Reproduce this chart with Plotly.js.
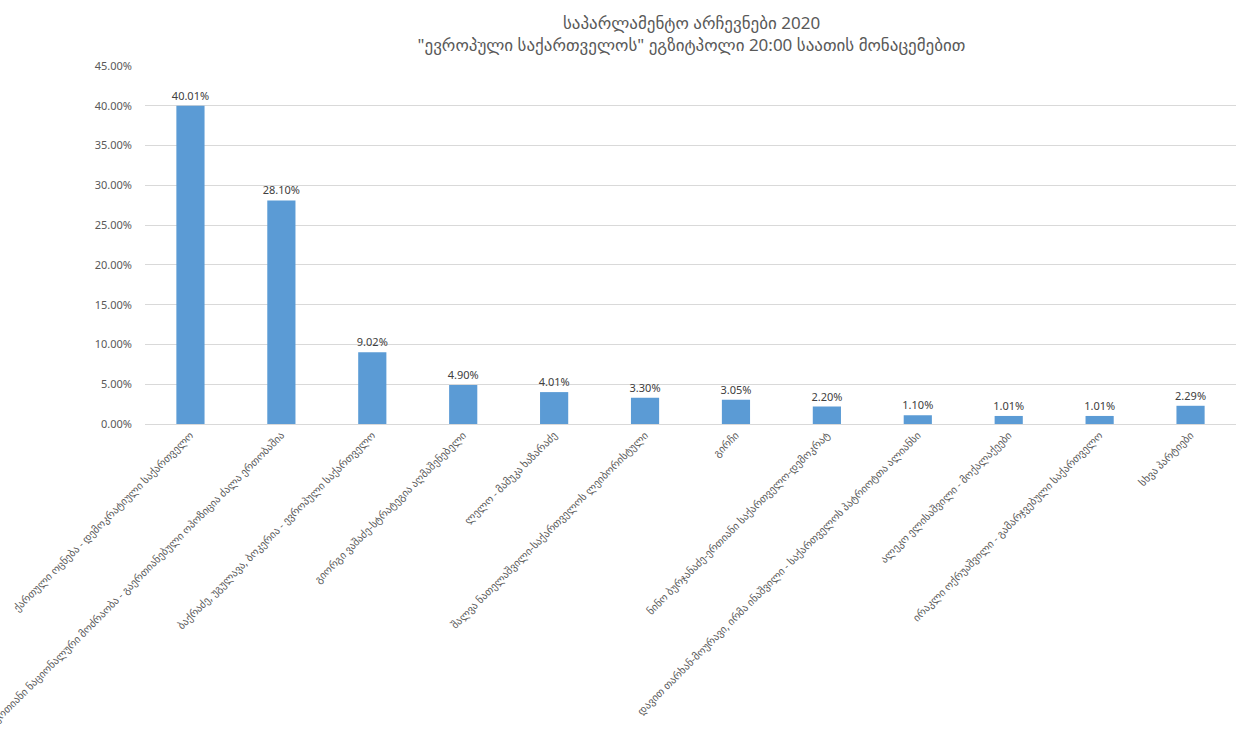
<!DOCTYPE html>
<html>
<head>
<meta charset="utf-8">
<script src="https://cdn.plot.ly/plotly-3.0.1.min.js"></script>
<style>html,body{margin:0;padding:0;background:#fff;}#chart{width:1246px;height:752px;}</style>
</head>
<body>
<div id="chart"></div>
<script>
const categories = [
  "ქართული ოცნება - დემოკრატიული საქართველო",
  "ერთიანი ნაციონალური მოძრაობა - გაერთიანებული ოპოზიცია ძალა ერთობაშია",
  "ბაქრაძე, უგულავა, ბოკერია - ევროპული საქართველო",
  "გიორგი ვაშაძე-სტრატეგია აღმაშენებელი",
  "ლელო - მამუკა ხაზარაძე",
  "შალვა ნათელაშვილი-საქართველოს ლეიბორისტული",
  "გირჩი",
  "ნინო ბურჯანაძე-ერთიანი საქართველო-დემოკრატ",
  "დავით თარხან-მოურავი, ირმა ინაშვილი - საქართველოს პატრიოტთა ალიანსი",
  "ალეკო ელისაშვილი - მოქალაქეები",
  "ირაკლი ოქრუაშვილი - გამარჯვებული საქართველო",
  "სხვა პარტიები"
];
const values = [0.4001, 0.2810, 0.0902, 0.0490, 0.0401, 0.0330, 0.0305, 0.0220, 0.0110, 0.0101, 0.0101, 0.0229];
const labels = values.map(v => (v * 100).toFixed(2) + "%");
const titleText = "საპარლამენტო არჩევნები 2020<br>\"ევროპული საქართველოს\" ეგზიტპოლი 20:00 საათის მონაცემებით";

const font = "Segoe UI, Noto Sans, DejaVu Sans, sans-serif";
Plotly.newPlot("chart", [{
  type: "bar",
  x: categories,
  y: values,
  text: labels,
  textposition: "outside",
  constraintext: "none",
  cliponaxis: false,
  textfont: {family: font, size: 11, color: "#404040"},
  marker: {color: "#5B9BD5"},
  hoverinfo: "x+y"
}], {
  width: 1246, height: 752,
  margin: {l: 145, r: 10, t: 66, b: 328, pad: 0},
  paper_bgcolor: "#ffffff", plot_bgcolor: "#ffffff",
  bargap: 0.69,
  showlegend: false,
  title: {text: titleText, x: 0.555, xanchor: "center", yref: "container", y: 0.962, yanchor: "middle",
          font: {family: font, size: 17, color: "#595959"}},
  xaxis: {
    type: "category", tickangle: -45, automargin: false,
    tickfont: {family: font, size: 10.5, color: "#595959"},
    showline: true, linecolor: "#d9d9d9", ticks: "", showgrid: false
  },
  yaxis: {
    range: [0, 0.45], dtick: 0.05, tickformat: ".2%",
    tickfont: {family: font, size: 11, color: "#595959"},
    gridcolor: "#d9d9d9", zeroline: false, showline: false, ticks: "",
    ticklabelstandoff: 12
  }
}, {displayModeBar: false, staticPlot: true});
</script>
</body>
</html>
